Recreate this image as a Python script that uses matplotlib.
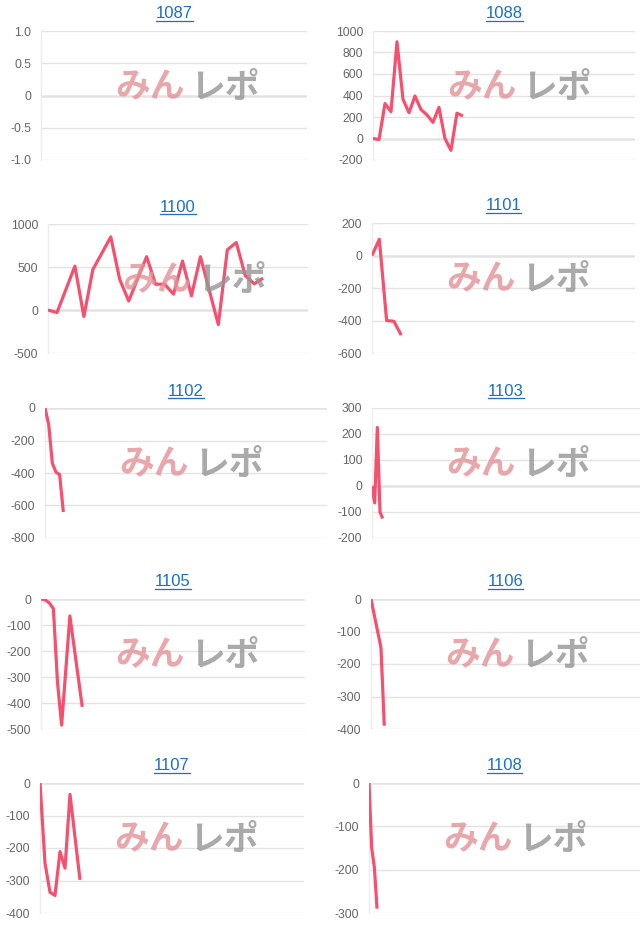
import matplotlib
matplotlib.use('Agg')
import matplotlib.pyplot as plt
from matplotlib.lines import Line2D
from matplotlib.transforms import IdentityTransform

plt.rcParams['font.family'] = ['Liberation Sans', 'DejaVu Sans']

W, H = 640, 931

# ---------------- data ----------------
titles = ['1087', '1088', '1100', '1101', '1102', '1103', '1105', '1106', '1107', '1108']

x_1087 = []
y_1087 = []
x_1088 = list(range(16))
y_1088 = [0, -10, 325, 250, 900, 365, 240, 395, 270, 220, 150, 290, 0, -110, 235, 210]
x_1100 = [0, 1, 3, 4, 5, 7, 8, 9, 11, 12, 13, 14, 15, 16, 17, 19, 20, 21, 22, 23, 24]
y_1100 = [0, -30, 510, -75, 470, 850, 355, 105, 620, 300, 300, 185, 570, 165, 620, -170, 700, 785, 400, 305, 370]
x_1101 = [0, 1, 2, 3, 4]
y_1101 = [0, 100, -400, -405, -490]
x_1102 = [0, 1, 2, 3, 4, 5]
y_1102 = [0, -100, -340, -395, -410, -640]
x_1103 = [0, 1, 2, 3, 4]
y_1103 = [0, -65, 225, -100, -125]
x_1105 = [0, 1, 2, 3, 4, 5, 7, 10]
y_1105 = [0, -3, -15, -37, -320, -485, -65, -415]
x_1106 = [0, 3, 4]
y_1106 = [0, -150, -390]
x_1107 = [0, 1, 2, 3, 4, 5, 6, 8]
y_1107 = [0, -247, -336, -346, -211, -262, -35, -298]
x_1108 = [0, 1, 2, 3]
y_1108 = [0, -150, -195, -290]

xs = [x_1087, x_1088, x_1100, x_1101, x_1102, x_1103, x_1105, x_1106, x_1107, x_1108]
ys = [y_1087, y_1088, y_1100, y_1101, y_1102, y_1103, y_1105, y_1106, y_1107, y_1108]

# x extent of each chart (in point-index units)
x_extent = [1, 43.7, 29, 36, 77, 100.5, 64, 81, 52.8, 101]

yticks = [
    [-1.0, -0.5, 0, 0.5, 1.0],
    [-200, 0, 200, 400, 600, 800, 1000],
    [-500, 0, 500, 1000],
    [-600, -400, -200, 0, 200],
    [-800, -600, -400, -200, 0],
    [-200, -100, 0, 100, 200, 300],
    [-500, -400, -300, -200, -100, 0],
    [-400, -300, -200, -100, 0],
    [-400, -300, -200, -100, 0],
    [-300, -200, -100, 0],
]
ytick_labels = [
    ['-1.0', '-0.5', '0', '0.5', '1.0'],
    ['-200', '0', '200', '400', '600', '800', '1000'],
    ['-500', '0', '500', '1000'],
    ['-600', '-400', '-200', '0', '200'],
    ['-800', '-600', '-400', '-200', '0'],
    ['-200', '-100', '0', '100', '200', '300'],
    ['-500', '-400', '-300', '-200', '-100', '0'],
    ['-400', '-300', '-200', '-100', '0'],
    ['-400', '-300', '-200', '-100', '0'],
    ['-300', '-200', '-100', '0'],
]

# plot-area boxes in pixels: left, top, right, bottom
boxes = [
    (41, 31, 307, 160), (373, 31, 635, 160),
    (48, 224, 308, 353), (372, 223, 635, 353),
    (45, 408, 327, 538), (372, 408, 640, 538),
    (41, 599, 305, 729), (371, 599, 640, 729),
    (40, 783, 304, 913), (369, 783, 640, 913),
]

LINE_COLOR = '#f5506e'
TICK_COLOR = '#666666'
TITLE_COLOR = '#1a6fc9'

fig = plt.figure(figsize=(W / 100, H / 100), dpi=100)
fig.patch.set_facecolor('white')

title_texts = []
for i, (l, t, r, b) in enumerate(boxes):
    ax = fig.add_axes([l / W, 1 - b / H, (r - l) / W, (b - t) / H])
    ax.set_facecolor('none')
    if xs[i]:
        ax.plot(xs[i], ys[i], color=LINE_COLOR, lw=2.3, solid_joinstyle='round',
                solid_capstyle='butt', zorder=3)
    ax.set_xlim(0, x_extent[i])
    ax.set_ylim(yticks[i][0], yticks[i][-1])
    ax.set_yticks(yticks[i])
    ax.set_yticklabels(ytick_labels[i])
    ax.set_xticks([])
    ax.tick_params(axis='y', length=0, pad=7, labelsize=8.7, labelcolor=TICK_COLOR)
    ax.grid(axis='y', color='#e3e3e3', lw=1, zorder=0)
    ax.axhline(0, color='#9a9a9a', lw=1, zorder=1)
    for s in ['top', 'right', 'bottom']:
        ax.spines[s].set_visible(False)
    ax.spines['left'].set_color('#ececec')
    ax.spines['left'].set_linewidth(1)

    # watermark logo text
    wy = 1 - (t + 56) / H
    fig.text((l + 109) / W, wy, 'みん', ha='center', va='center', fontsize=25,
             fontweight='bold', color='#e39195', alpha=0.8,
             family=['Noto Sans CJK JP', 'DejaVu Sans'], zorder=10)
    fig.text((l + 184) / W, wy, 'レポ', ha='center', va='center', fontsize=25,
             fontweight='bold', color='#959595', alpha=0.8,
             family=['Noto Sans CJK JP', 'DejaVu Sans'], zorder=10)

    # title
    tt = fig.text((l + r) / 2 / W, 1 - (t - 12.5) / H, titles[i], ha='center', va='baseline',
                  fontsize=12, color=TITLE_COLOR)
    title_texts.append(tt)

fig.canvas.draw()
for tt in title_texts:
    bb = tt.get_window_extent()
    yline = bb.y0 + 1
    fig.add_artist(Line2D([bb.x0, bb.x1], [yline, yline], transform=IdentityTransform(),
                          color=TITLE_COLOR, lw=0.9))

fig.savefig('out.png', dpi=100, facecolor='white')
